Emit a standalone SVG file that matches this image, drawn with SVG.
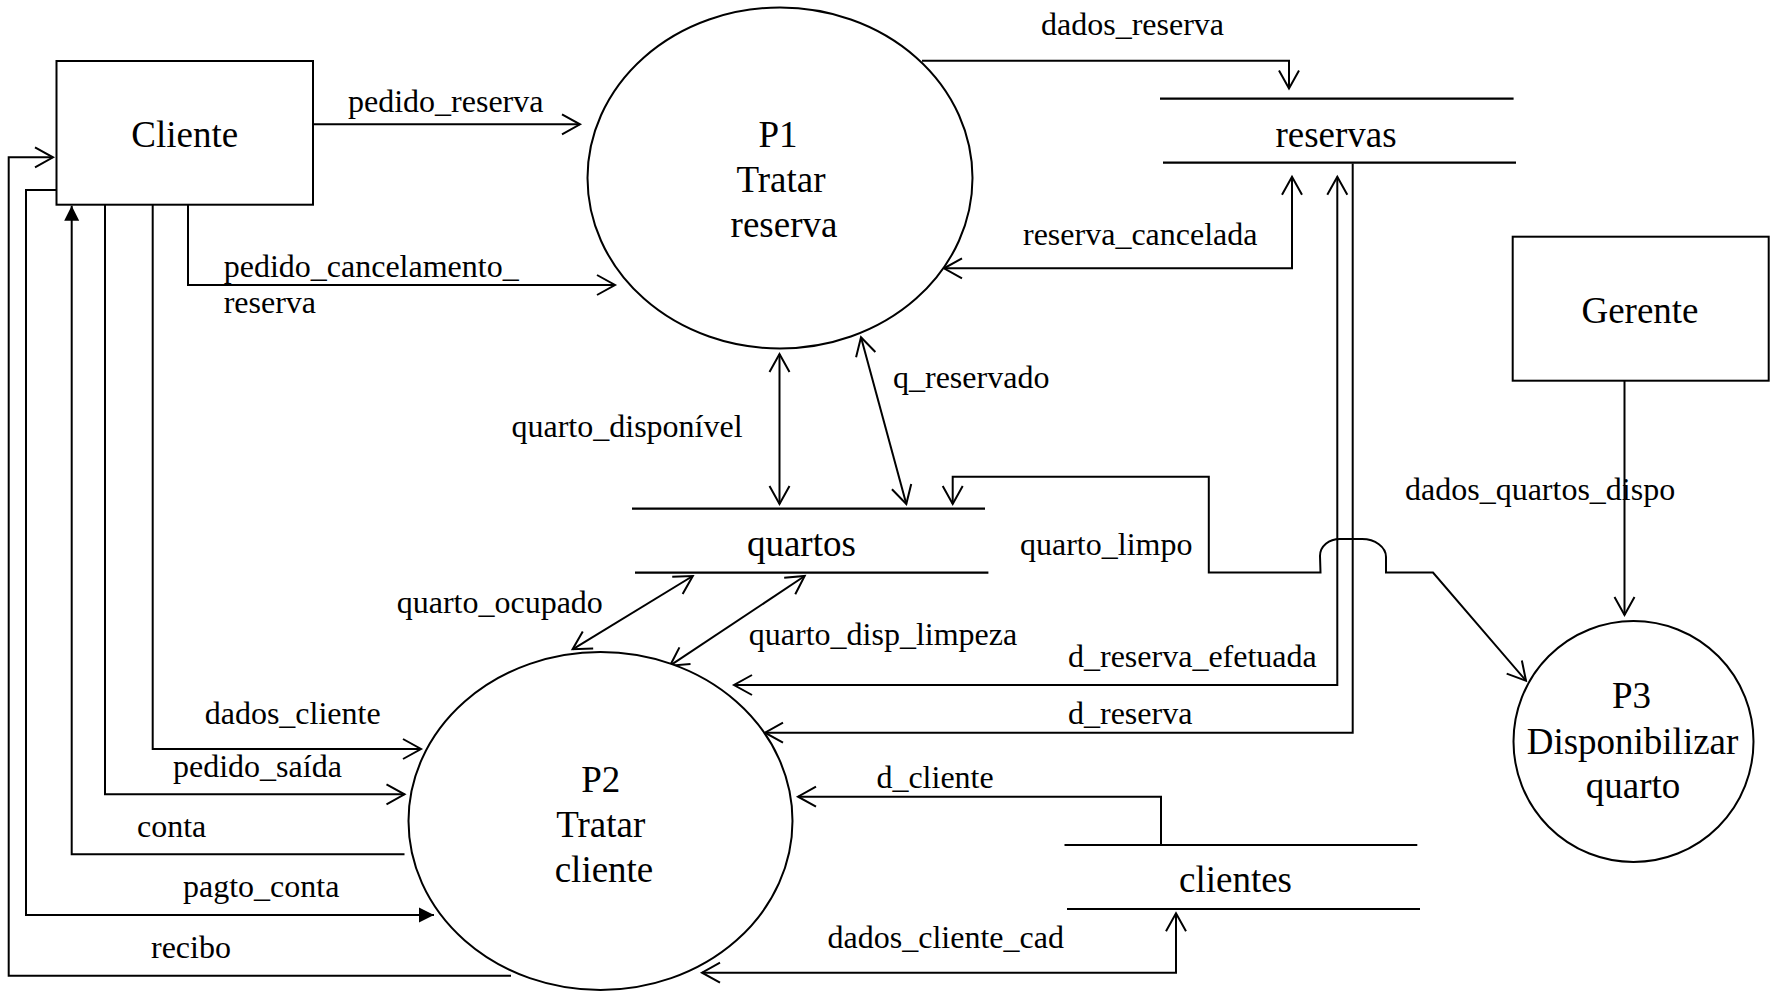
<svg xmlns="http://www.w3.org/2000/svg" width="1774" height="993" viewBox="0 0 1774 993">
<style>
.shape{fill:#fff;stroke:#000;stroke-width:2}
.store{fill:none;stroke:#000;stroke-width:2.2}
.conn{fill:none;stroke:#000;stroke-width:2}
.node{font-family:"Liberation Serif","Times New Roman",serif;font-size:37px;fill:#000;text-anchor:middle}
.lbl{font-family:"Liberation Serif","Times New Roman",serif;font-size:32px;fill:#000}
.open-end{marker-end:url(#open)}
.open-both{marker-start:url(#open);marker-end:url(#open)}
.filled-end{marker-end:url(#filled)}
</style>
<defs>
<marker id="open" markerUnits="userSpaceOnUse" markerWidth="22" markerHeight="24" viewBox="-1 -1 22 24" refX="18" refY="10" orient="auto-start-reverse" overflow="visible">
<path d="M0,0 L18,10 L0,20" fill="none" stroke="#000" stroke-width="2"/>
</marker>
<marker id="filled" markerUnits="userSpaceOnUse" markerWidth="16" markerHeight="16" viewBox="0 0 16 16" refX="15" refY="7.5" orient="auto-start-reverse" overflow="visible">
<path d="M0,0 L15,7.5 L0,15 Z" fill="#000"/>
</marker>
</defs>
<rect width="1774" height="993" fill="#fff"/>

<g id="connectors">
<path id="c-pedido_reserva" class="conn open-end" d="M313,124.3 H580"/>
<path id="c-pedido_cancelamento" class="conn open-end" d="M188,205 V285 H615"/>
<path id="c-dados_reserva" class="conn open-end" d="M922,60.7 H1289 V88.5"/>
<path id="c-reserva_cancelada" class="conn open-both" d="M1292,176.7 V268.3 H944"/>
<path id="c-quarto_disponivel" class="conn open-both" d="M779.5,354 V504"/>
<path id="c-q_reservado" class="conn open-both" d="M861,337.3 L906.3,504"/>
<path id="c-quarto_limpo" class="conn open-both" d="M952.7,504 V476.7 H1208.8 V572.5 H1320.5 L1320,556 C1320,546 1329,539 1340,539 L1362,539 C1375,539 1386,547 1386,557 L1386,572.5 H1433 L1526,680.7"/>
<path id="c-dados_quartos_dispo" class="conn open-end" d="M1624.5,380.7 V615"/>
<path id="c-quarto_ocupado" class="conn open-both" d="M692.8,576 L572.6,649.3"/>
<path id="c-quarto_disp_limpeza" class="conn open-both" d="M804.7,576 L670,665.7"/>
<path id="c-d_reserva_efetuada" class="conn open-both" d="M1337.3,176.7 V685 H734"/>
<path id="c-d_reserva" class="conn open-end" d="M1352.7,163.5 V732.7 H765"/>
<path id="c-d_cliente" class="conn open-end" d="M1161,845 V796.7 H798"/>
<path id="c-dados_cliente_cad" class="conn open-both" d="M1176,913.3 V972.7 H702"/>
<path id="c-dados_cliente" class="conn open-end" d="M152.7,205 V749 H421"/>
<path id="c-pedido_saida" class="conn open-end" d="M105,205 V794.3 H404.5"/>
<path id="c-conta" class="conn filled-end" d="M404.5,854.3 H71.7 V205.7"/>
<path id="c-pagto_conta" class="conn filled-end" d="M56.5,190 H26 V915 H434"/>
<path id="c-recibo" class="conn open-end" d="M511,975.7 H8.7 V157.3 H53"/>

<text class="lbl" x="348" y="112">pedido_reserva</text>
<text class="lbl" x="223.7" y="277">pedido_cancelamento_</text>
<text class="lbl" x="223.7" y="312.7">reserva</text>
<text class="lbl" x="1041" y="35">dados_reserva</text>
<text class="lbl" x="1023" y="245">reserva_cancelada</text>
<text class="lbl" x="893" y="388">q_reservado</text>
<text class="lbl" x="511.5" y="436.5">quarto_disponível</text>
<text class="lbl" x="1020" y="555">quarto_limpo</text>
<text class="lbl" x="1405" y="500">dados_quartos_dispo</text>
<text class="lbl" x="396.7" y="613.3">quarto_ocupado</text>
<text class="lbl" x="748.8" y="645">quarto_disp_limpeza</text>
<text class="lbl" x="1068" y="666.7">d_reserva_efetuada</text>
<text class="lbl" x="1068" y="724">d_reserva</text>
<text class="lbl" x="204.7" y="724">dados_cliente</text>
<text class="lbl" x="173" y="777">pedido_saída</text>
<text class="lbl" x="876.4" y="788">d_cliente</text>
<text class="lbl" x="137" y="836.7">conta</text>
<text class="lbl" x="183" y="897">pagto_conta</text>
<text class="lbl" x="827.6" y="948">dados_cliente_cad</text>
<text class="lbl" x="151" y="958">recibo</text>
</g>

<g id="cliente">
<rect class="shape" x="56.5" y="61" width="256.5" height="143.7"/>
<text class="node" x="184.7" y="147">Cliente</text>
</g>

<g id="gerente">
<rect class="shape" x="1512.7" y="236.7" width="256" height="144"/>
<text class="node" x="1640" y="322.7">Gerente</text>
</g>

<g id="p1">
<ellipse class="shape" cx="780" cy="178" rx="192.5" ry="170.5" fill="none"/>
<text class="node" x="778" y="146.7">P1</text>
<text class="node" x="781" y="191.7">Tratar</text>
<text class="node" x="784" y="236.7">reserva</text>
</g>

<g id="p2">
<ellipse class="shape" cx="600.5" cy="821" rx="192" ry="169"/>
<text class="node" x="600.7" y="792">P2</text>
<text class="node" x="600.7" y="837">Tratar</text>
<text class="node" x="604" y="882">cliente</text>
</g>

<g id="p3">
<ellipse class="shape" cx="1633.5" cy="741.5" rx="120" ry="120.5"/>
<text class="node" x="1631.5" y="708.3">P3</text>
<text class="node" x="1632.5" y="754">Disponibilizar</text>
<text class="node" x="1633" y="798.3">quarto</text>
</g>

<g id="reservas">
<path class="store" d="M1160,98.7 H1513.6 M1163,162.7 H1516"/>
<text class="node" x="1336" y="146.7">reservas</text>
</g>

<g id="quartos">
<path class="store" d="M632,508.7 H985 M635,572.7 H988.4"/>
<text class="node" x="801.4" y="556">quartos</text>
</g>

<g id="clientes">
<path class="store" d="M1064.5,845 H1417.3 M1067,909 H1420"/>
<text class="node" x="1235.5" y="891.7">clientes</text>
</g>
</svg>
